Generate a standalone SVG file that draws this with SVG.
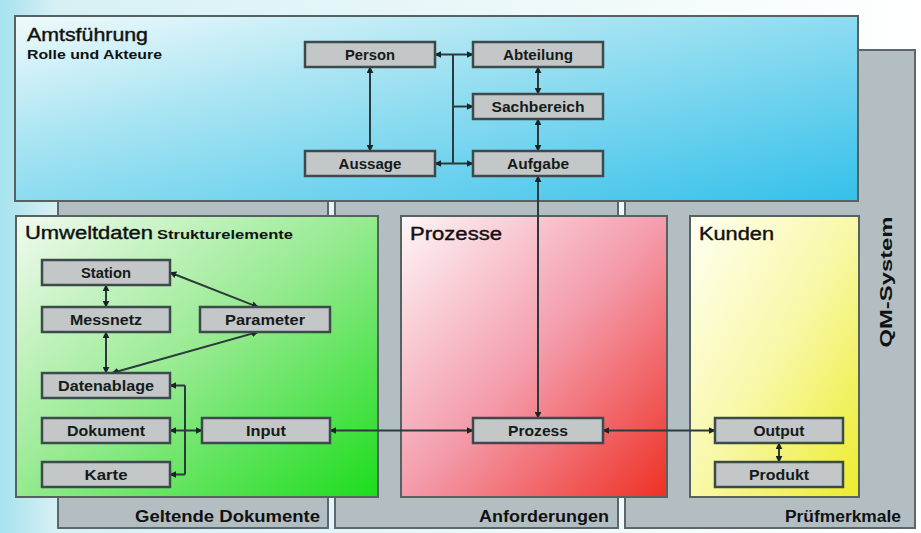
<svg xmlns="http://www.w3.org/2000/svg" width="921" height="533" viewBox="0 0 921 533">
<style>
.panel{stroke:#55625f;stroke-width:2}
.col{fill:#b3bec2;stroke:#5c676b;stroke-width:2}
.node rect{fill:#c3c7c8;stroke:#3d4a4c;stroke-width:2.5}
.node text{font-family:"Liberation Sans",Arial,sans-serif;font-weight:bold;font-size:14.5px;fill:#151a1a;text-anchor:middle}
.title{font-family:"Liberation Sans",Arial,sans-serif;font-size:18px;fill:#111;stroke:#111;stroke-width:0.4}
.sub{font-family:"Liberation Sans",Arial,sans-serif;font-weight:bold;font-size:13px;fill:#111}
.lbl{font-family:"Liberation Sans",Arial,sans-serif;font-weight:bold;font-size:16px;fill:#111}
.conn{fill:none;stroke:#2c3a3c;stroke-width:2}
</style>
<defs>
<marker id="arr" viewBox="0 0 10 10" refX="9" refY="5" markerWidth="7" markerHeight="7" markerUnits="userSpaceOnUse" orient="auto-start-reverse">
<path d="M0,0 L10,5 L0,10 z" fill="#1a2426"/>
</marker>
<linearGradient id="bg" x1="0" y1="0" x2="1" y2="0">
<stop offset="0" stop-color="#a6e2ee"/>
<stop offset="0.06" stop-color="#d6f0f4"/>
<stop offset="1" stop-color="#ffffff"/>
</linearGradient>
<linearGradient id="gTop" x1="0" y1="0" x2="1" y2="1">
<stop offset="0" stop-color="#f0fafc"/>
<stop offset="0.35" stop-color="#a8e4f2"/>
<stop offset="1" stop-color="#34c0ea"/>
</linearGradient>
<linearGradient id="gGreen" x1="0" y1="0" x2="1" y2="1">
<stop offset="0" stop-color="#f2faf0"/>
<stop offset="0.5" stop-color="#94ea8e"/>
<stop offset="1" stop-color="#1cdc1c"/>
</linearGradient>
<linearGradient id="gRed" x1="0" y1="0" x2="1" y2="1">
<stop offset="0" stop-color="#fdf6f8"/>
<stop offset="0.5" stop-color="#f49cac"/>
<stop offset="1" stop-color="#ee3024"/>
</linearGradient>
<linearGradient id="gYellow" x1="0" y1="0" x2="1" y2="1">
<stop offset="0" stop-color="#fffff4"/>
<stop offset="0.5" stop-color="#f8f8a8"/>
<stop offset="1" stop-color="#ecec2c"/>
</linearGradient>
</defs>

<rect x="0" y="0" width="921" height="533" fill="url(#bg)"/>

<g id="columns">
<rect class="col" x="58" y="190" width="270" height="338"/>
<rect class="col" x="335" y="190" width="283" height="338"/>
<rect class="col" x="625" y="50" width="290" height="478"/>
<text class="lbl" x="135" y="522" textLength="185" lengthAdjust="spacingAndGlyphs">Geltende Dokumente</text>
<text class="lbl" x="479" y="522" textLength="130" lengthAdjust="spacingAndGlyphs">Anforderungen</text>
<text class="lbl" x="785" y="522" textLength="116" lengthAdjust="spacingAndGlyphs">Prüfmerkmale</text>
<text class="lbl" transform="translate(892,282) rotate(-90)" text-anchor="middle" font-size="20" textLength="131" lengthAdjust="spacingAndGlyphs">QM-System</text>
</g>

<g id="amtsfuehrung">
<rect class="panel" x="15" y="16" width="843" height="185" fill="url(#gTop)" stroke="#4b6468" stroke-width="2.5"/>
<text class="title" x="27" y="41" textLength="121" lengthAdjust="spacingAndGlyphs">Amtsführung</text>
<text class="sub" x="27" y="59" textLength="135" lengthAdjust="spacingAndGlyphs">Rolle und Akteure</text>
</g>

<g id="umweltdaten">
<rect class="panel" x="16" y="216" width="362" height="281" fill="url(#gGreen)"/>
<text class="title" x="25" y="239" textLength="128" lengthAdjust="spacingAndGlyphs">Umweltdaten</text>
<text class="sub" x="157" y="239" textLength="136" lengthAdjust="spacingAndGlyphs">Strukturelemente</text>
</g>

<g id="prozesse">
<rect class="panel" x="401" y="216" width="266" height="281" fill="url(#gRed)"/>
<text class="title" x="410" y="240" textLength="92" lengthAdjust="spacingAndGlyphs">Prozesse</text>
</g>

<g id="kunden">
<rect class="panel" x="690" y="216" width="169" height="281" fill="url(#gYellow)"/>
<text class="title" x="699" y="240" textLength="75" lengthAdjust="spacingAndGlyphs">Kunden</text>
</g>

<g id="connectors">
<path class="conn" d="M370,67 V151" marker-start="url(#arr)" marker-end="url(#arr)"/>
<path class="conn" d="M435,54.5 H473" marker-start="url(#arr)" marker-end="url(#arr)"/>
<path class="conn" d="M453,54.5 V163.5"/>
<path class="conn" d="M453,106.5 H473" marker-end="url(#arr)"/>
<path class="conn" d="M435,163.5 H473" marker-start="url(#arr)" marker-end="url(#arr)"/>
<path class="conn" d="M538,67 V94" marker-start="url(#arr)" marker-end="url(#arr)"/>
<path class="conn" d="M538,119 V151" marker-start="url(#arr)" marker-end="url(#arr)"/>
<path class="conn" d="M538,176 V418" marker-start="url(#arr)" marker-end="url(#arr)"/>
<path class="conn" d="M106,285 V307" marker-start="url(#arr)" marker-end="url(#arr)"/>
<path class="conn" d="M170,272.5 L258,307" marker-start="url(#arr)" marker-end="url(#arr)"/>
<path class="conn" d="M106,332 V373" marker-start="url(#arr)" marker-end="url(#arr)"/>
<path class="conn" d="M258,332 L112,373" marker-start="url(#arr)" marker-end="url(#arr)"/>
<path class="conn" d="M185,385.5 V474.5"/>
<path class="conn" d="M185,385.5 H170" marker-end="url(#arr)"/>
<path class="conn" d="M185,430.5 H170" marker-end="url(#arr)"/>
<path class="conn" d="M185,474.5 H170" marker-end="url(#arr)"/>
<path class="conn" d="M185,430.5 H202" marker-end="url(#arr)"/>
<path class="conn" d="M330,430.5 H473" marker-start="url(#arr)" marker-end="url(#arr)"/>
<path class="conn" d="M603,430.5 H715" marker-start="url(#arr)" marker-end="url(#arr)"/>
<path class="conn" d="M779,443 V462" marker-start="url(#arr)" marker-end="url(#arr)"/>
</g>

<g id="person" class="node"><rect x="305" y="42" width="130" height="25"/><text x="370" y="59.5" textLength="50" lengthAdjust="spacingAndGlyphs">Person</text></g>
<g id="aussage" class="node"><rect x="305" y="151" width="130" height="25"/><text x="370" y="168.5" textLength="63" lengthAdjust="spacingAndGlyphs">Aussage</text></g>
<g id="abteilung" class="node"><rect x="473" y="42" width="130" height="25"/><text x="538" y="59.5" textLength="70" lengthAdjust="spacingAndGlyphs">Abteilung</text></g>
<g id="sachbereich" class="node"><rect x="473" y="94" width="130" height="25"/><text x="538" y="111.5" textLength="93" lengthAdjust="spacingAndGlyphs">Sachbereich</text></g>
<g id="aufgabe" class="node"><rect x="473" y="151" width="130" height="25"/><text x="538" y="168.5" textLength="62" lengthAdjust="spacingAndGlyphs">Aufgabe</text></g>
<g id="station" class="node"><rect x="42" y="260" width="128" height="25"/><text x="106" y="277.5" textLength="50" lengthAdjust="spacingAndGlyphs">Station</text></g>
<g id="messnetz" class="node"><rect x="42" y="307" width="128" height="25"/><text x="106" y="324.5" textLength="72" lengthAdjust="spacingAndGlyphs">Messnetz</text></g>
<g id="parameter" class="node"><rect x="200" y="307" width="130" height="25"/><text x="265" y="324.5" textLength="80" lengthAdjust="spacingAndGlyphs">Parameter</text></g>
<g id="datenablage" class="node"><rect x="42" y="373" width="128" height="25"/><text x="106" y="390.5" textLength="96" lengthAdjust="spacingAndGlyphs">Datenablage</text></g>
<g id="dokument" class="node"><rect x="42" y="418" width="128" height="25"/><text x="106" y="435.5" textLength="78" lengthAdjust="spacingAndGlyphs">Dokument</text></g>
<g id="input" class="node"><rect x="202" y="418" width="128" height="25"/><text x="266" y="435.5" textLength="40" lengthAdjust="spacingAndGlyphs">Input</text></g>
<g id="karte" class="node"><rect x="42" y="462" width="128" height="25"/><text x="106" y="479.5" textLength="43" lengthAdjust="spacingAndGlyphs">Karte</text></g>
<g id="prozess" class="node"><rect x="473" y="418" width="130" height="25"/><text x="538" y="435.5" textLength="60" lengthAdjust="spacingAndGlyphs">Prozess</text></g>
<g id="output" class="node"><rect x="715" y="418" width="128" height="25"/><text x="779" y="435.5" textLength="51" lengthAdjust="spacingAndGlyphs">Output</text></g>
<g id="produkt" class="node"><rect x="715" y="462" width="128" height="25"/><text x="779" y="479.5" textLength="60" lengthAdjust="spacingAndGlyphs">Produkt</text></g>
</svg>
